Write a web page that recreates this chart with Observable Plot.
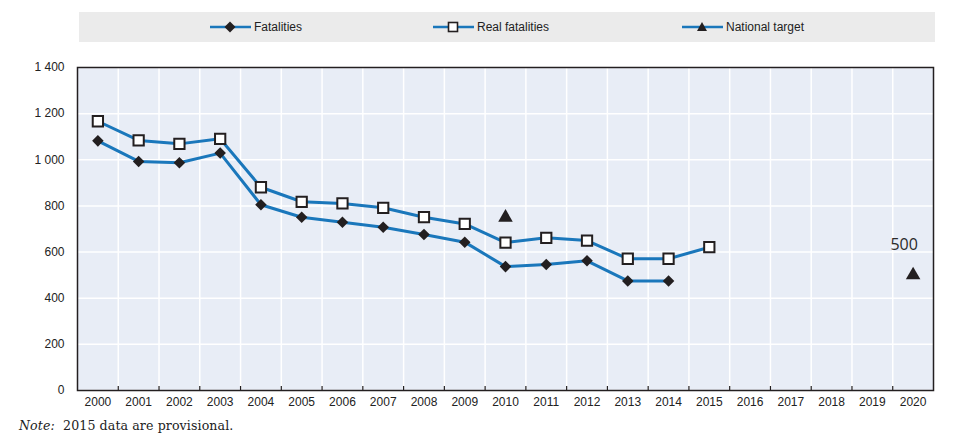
<!DOCTYPE html>
<html>
<head>
<meta charset="utf-8">
<script src="https://cdn.jsdelivr.net/npm/d3@7"></script>
<script src="https://cdn.jsdelivr.net/npm/@observablehq/plot@0.6"></script>
<style>
  body { margin: 0; background: #fff; width: 959px; height: 443px; position: relative; overflow: hidden; font-family: "Liberation Sans", Arial, sans-serif; }
  #legend { position: absolute; left: 79px; top: 12px; width: 856px; height: 30px; background: #ebebeb; }
  .item { position: absolute; top: 0; height: 30px; display: flex; align-items: center; font-size: 12px; color: #222; }
  .item svg { margin-right: 3px; }
  #chart { position: absolute; left: 0; top: 0; }
  #note { position: absolute; left: 19px; top: 418px; font-family: "DejaVu Serif", "Liberation Serif", serif; font-size: 12.6px; color: #222; letter-spacing: 0.1px; }
</style>
</head>
<body>
<div id="legend"></div>
<div id="chart"></div>
<div id="note"><i>Note:</i>&nbsp; 2015 data are provisional.</div>
<script>
const years = [2000,2001,2002,2003,2004,2005,2006,2007,2008,2009,2010,2011,2012,2013,2014,2015,2016,2017,2018,2019,2020];
const fatalYears = [2000,2001,2002,2003,2004,2005,2006,2007,2008,2009,2010,2011,2012,2013,2014];
const fatalities = [1082,993,987,1029,805,751,729,708,676,643,537,546,562,475,475];
const realYears = [2000,2001,2002,2003,2004,2005,2006,2007,2008,2009,2010,2011,2012,2013,2014,2015];
const realFatalities = [1167,1084,1069,1091,881,818,811,792,751,722,641,662,650,571,571,621];
const targetYears = [2010,2020];
const targets = [750,500];
const targetLabels = ["", "500"];
const yTicks = [0,200,400,600,800,1000,1200,1400];
const seriesNames = ["Fatalities","Real fatalities","National target"];

const blue = "#1a77bb";
const dark = "#231f20";

const fatalData = fatalYears.map((y,i) => ({year: y, value: fatalities[i]}));
const realData = realYears.map((y,i) => ({year: y, value: realFatalities[i]}));
const targetData = targetYears.map((y,i) => ({year: y, value: targets[i], label: targetLabels[i]}));
const gridX = years.slice(0, -1).map(y => y + 0.5);

const fmt = d => d >= 1000 ? d3.format(",")(d).replace(",", " ") : String(d);

const chart = Plot.plot({
  width: 959,
  height: 412,
  marginTop: 67,
  marginBottom: 22,
  marginLeft: 77,
  marginRight: 26,
  style: { fontFamily: "Liberation Sans, Arial, sans-serif", fontSize: "12px", color: "#222", background: "transparent" },
  x: { type: "linear", domain: [years[0] - 0.5, years[years.length - 1] + 0.5], label: null },
  y: { type: "linear", domain: [0, 1400], label: null },
  marks: [
    Plot.frame({ fill: "#e8edf6", stroke: null }),
    Plot.gridY(yTicks, { stroke: "#fff", strokeOpacity: 1, strokeWidth: 1.5 }),
    Plot.ruleX(gridX, { stroke: "#fff", strokeWidth: 1.5 }),
    Plot.ruleX(gridX, { y1: 0, y2: 0, insetTop: -4, stroke: dark, strokeWidth: 1.2 }),
    Plot.frame({ stroke: dark, strokeWidth: 1.5 }),
    Plot.axisY(yTicks, { tickSize: 0, tickPadding: 13, tickFormat: fmt, fontSize: 12, label: null }),
    Plot.axisX(years, { tickSize: 0, tickPadding: 7, tickFormat: d => String(d), fontSize: 12, label: null }),
    Plot.line(fatalData, { x: "year", y: "value", stroke: blue, strokeWidth: 3 }),
    Plot.line(realData, { x: "year", y: "value", stroke: blue, strokeWidth: 3 }),
    Plot.dot(fatalData, { x: "year", y: "value", symbol: "diamond2", fill: dark, stroke: null, r: 5.2 }),
    Plot.dot(realData, { x: "year", y: "value", symbol: "square", fill: "#fff", stroke: dark, strokeWidth: 2, r: 5.8 }),
    Plot.dot(targetData, { x: "year", y: "value", symbol: "triangle", fill: dark, r: 5.4 }),
    Plot.text(targetData, { x: "year", y: "value", text: "label", dy: -30, dx: -9, fontSize: 16, fontFamily: "Open Sans, sans-serif", fill: "#2a2a2a" })
  ]
});
document.getElementById("chart").appendChild(chart);

// Legend
const legend = document.getElementById("legend");
const lefts = [131, 354, 603];
const symbols = ["diamond", "square", "triangle"];
seriesNames.forEach((name, i) => {
  const item = document.createElement("div");
  item.className = "item";
  item.style.left = lefts[i] + "px";
  let marker = "";
  if (symbols[i] === "diamond") marker = `<path d="M20,8.5 L25.5,14 L20,19.5 L14.5,14 Z" fill="${dark}"/>`;
  if (symbols[i] === "square") marker = `<rect x="15.5" y="9.5" width="9" height="9" fill="#fff" stroke="${dark}" stroke-width="1.6"/>`;
  if (symbols[i] === "triangle") marker = `<path d="M20,9 L25,18 L15,18 Z" fill="${dark}"/>`;
  item.innerHTML = `<svg width="41" height="28" viewBox="0 0 41 28"><line x1="0" y1="14" x2="41" y2="14" stroke="${blue}" stroke-width="2.5"/>${marker}</svg><span>${name}</span>`;
  legend.appendChild(item);
});
</script>
</body>
</html>
